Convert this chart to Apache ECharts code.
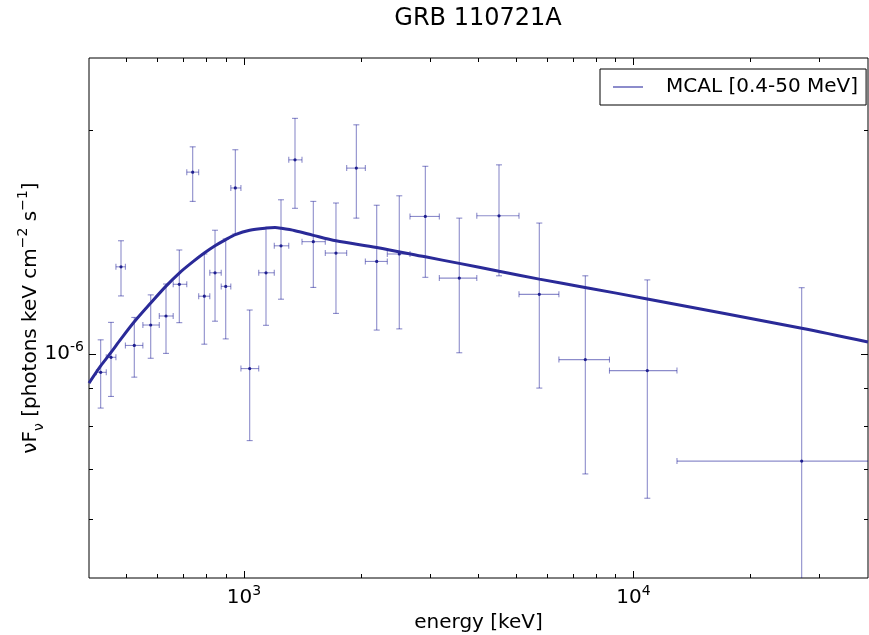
<!DOCTYPE html>
<html>
<head>
<meta charset="utf-8">
<script src="https://cdn.jsdelivr.net/npm/echarts@6/dist/echarts.min.js"></script>
<style>
html,body{margin:0;padding:0;background:#fff;}
#c{width:869px;height:635px;}
</style>
</head>
<body>
<div id="c"></div>
<script>
// ---- data ----
const energy     = [428.6, 455.6, 483.3, 522.8, 576.1, 630.6, 682.2, 738.4, 790.9, 842.6, 897.6, 950.0, 1034.2, 1138.9, 1244.5, 1351.9, 1506.4, 1722.4, 1942.7, 2191.4, 2504.1, 2921.1, 3570.3, 4515.4, 5730.0, 7521.3, 10851, 27027];
const energyLow  = [418, 443, 469, 496, 550, 606, 658, 713, 765, 817, 874, 925, 982, 1091, 1196, 1303, 1409, 1617, 1835, 2049, 2333, 2668, 3173, 3960, 5082, 6434, 8676, 12931];
const energyHigh = [443, 469, 496, 550, 606, 658, 713, 765, 817, 874, 925, 982, 1091, 1196, 1303, 1409, 1617, 1835, 2049, 2333, 2668, 3173, 3960, 5082, 6434, 8676, 12931, 50000];
const flux       = [9.45e-7, 9.90e-7, 1.310e-6, 1.027e-6, 1.094e-6, 1.125e-6, 1.241e-6, 1.756e-6, 1.196e-6, 1.286e-6, 1.233e-6, 1.672e-6, 9.56e-7, 1.286e-6, 1.398e-6, 1.824e-6, 1.416e-6, 1.367e-6, 1.778e-6, 1.332e-6, 1.363e-6, 1.531e-6, 1.265e-6, 1.534e-6, 1.203e-6, 9.83e-7, 9.50e-7, 7.18e-7];
const fluxLow    = [8.46e-7, 8.77e-7, 1.197e-6, 9.31e-7, 9.87e-7, 1.002e-6, 1.102e-6, 1.604e-6, 1.031e-6, 1.107e-6, 1.048e-6, 1.450e-6, 7.65e-7, 1.093e-6, 1.185e-6, 1.570e-6, 1.229e-6, 1.134e-6, 1.523e-6, 1.077e-6, 1.081e-6, 1.268e-6, 1.004e-6, 1.274e-6, 9.00e-7, 6.90e-7, 6.40e-7, 2.1e-7];
const fluxHigh   = [1.045e-6, 1.103e-6, 1.420e-6, 1.120e-6, 1.201e-6, 1.242e-6, 1.380e-6, 1.899e-6, 1.363e-6, 1.467e-6, 1.428e-6, 1.882e-6, 1.146e-6, 1.477e-6, 1.612e-6, 2.074e-6, 1.604e-6, 1.596e-6, 2.033e-6, 1.585e-6, 1.632e-6, 1.788e-6, 1.523e-6, 1.796e-6, 1.500e-6, 1.274e-6, 1.258e-6, 1.228e-6];

const modelEnergy = [400, 428.6, 455.6, 483.3, 522.8, 576.1, 630.6, 682.2, 738.4, 790.9, 842.6, 897.6, 950.0, 1034.2, 1138.9, 1201.3, 1244.5, 1351.9, 1506.4, 1722.4, 2191.4, 2921.1, 3570.3, 4515.4, 5730.0, 7508, 10851, 27027, 40000];
const modelFlux   = [9.14e-7, 9.64e-7, 1.005e-6, 1.048e-6, 1.105e-6, 1.171e-6, 1.234e-6, 1.285e-6, 1.330e-6, 1.367e-6, 1.398e-6, 1.425e-6, 1.447e-6, 1.467e-6, 1.477e-6, 1.479e-6, 1.476e-6, 1.465e-6, 1.444e-6, 1.420e-6, 1.391e-6, 1.351e-6, 1.324e-6, 1.292e-6, 1.261e-6, 1.229e-6, 1.186e-6, 1.083e-6, 1.038e-6];

const xMajorTicks = [1000, 10000];
const xMinorTicks = [500, 600, 700, 800, 900, 2000, 3000, 4000, 5000, 6000, 7000, 8000, 9000, 20000, 30000];
const yMajorTicks = [1e-6];
const yMinorTicks = [6e-7, 7e-7, 8e-7, 9e-7, 2e-6];

const titleText = 'GRB 110721A';
const legendName = 'MCAL [0.4-50 MeV]';
const xName = 'energy [keV]';
// ---------------------------------------

const FONT = 'DejaVu Sans';
const ERR_COLOR = 'rgba(0,0,140,0.45)';
const DOT_COLOR = '#1f1f8f';
const CURVE_COLOR = '#2a2a98';

const expLabel = v => '{b|10}{s|' + Math.round(Math.log10(v)) + '}';
const labelRich = {
  b: {fontFamily: FONT, fontSize: 20, color: '#000', lineHeight: 28, verticalAlign: 'middle'},
  s: {fontFamily: FONT, fontSize: 14, color: '#000', verticalAlign: 'top'}
};

function makeX(pos, ticks, len, withLabel) {
  return {
    type: 'log', logBase: 10, min: 400, max: 40000, position: pos, gridIndex: 0,
    axisLine: {show: false}, splitLine: {show: false}, minorTick: {show: false},
    axisTick: {show: true, inside: true, length: len, customValues: ticks, lineStyle: {color: '#000', width: 1}},
    axisLabel: withLabel ? {show: true, customValues: ticks, margin: 6, formatter: expLabel, rich: labelRich} : {show: false},
    name: withLabel ? xName : '', nameLocation: 'middle', nameGap: 35, nameMoveOverlap: false,
    nameTextStyle: {fontFamily: FONT, fontSize: 20, color: '#000'}
  };
}
function makeY(pos, ticks, len, withLabel) {
  return {
    type: 'log', logBase: 10, min: 5e-7, max: 2.5e-6, position: pos, gridIndex: 0,
    axisLine: {show: false}, splitLine: {show: false}, minorTick: {show: false},
    axisTick: {show: true, inside: true, length: len, customValues: ticks, lineStyle: {color: '#000', width: 1}},
    axisLabel: withLabel ? {show: true, customValues: ticks, margin: 5, formatter: expLabel, rich: labelRich} : {show: false},
    name: withLabel ? '{n|νF}{sub|ν}{n| [photons keV cm}{sup|−2}{n| s}{sup|−1}{n|]}' : '',
    nameLocation: 'middle', nameGap: 43, nameMoveOverlap: false,
    nameTextStyle: {
      color: '#000',
      rich: {
        n: {fontFamily: FONT, fontSize: 20, color: '#000', lineHeight: 30, verticalAlign: 'middle'},
        sub: {fontFamily: FONT, fontSize: 14, color: '#000', verticalAlign: 'bottom'},
        sup: {fontFamily: FONT, fontSize: 14, color: '#000', verticalAlign: 'top'}
      }
    }
  };
}

const errData = energy.map((e, i) => [e, energyLow[i], energyHigh[i], flux[i], fluxLow[i], fluxHigh[i]]);
const modelData = modelEnergy.map((e, i) => [e, modelFlux[i]]);

const chart = echarts.init(document.getElementById('c'), null, {renderer: 'canvas'});
chart.setOption({
  animation: false,
  backgroundColor: '#fff',
  title: {
    text: titleText, left: 478, top: 7, textAlign: 'center', padding: 0,
    textStyle: {fontFamily: FONT, fontSize: 24, fontWeight: 'normal', color: '#000'}
  },
  legend: {
    left: 600, top: 69, padding: [8, 8, 8, 13], selectedMode: false,
    borderColor: '#000', borderWidth: 1, backgroundColor: '#fff',
    itemWidth: 30, itemHeight: 2,
    textStyle: {fontFamily: FONT, fontSize: 20, color: '#000', padding: [0, 0, 0, 18]},
    data: [{name: legendName, icon: 'rect', itemStyle: {color: ERR_COLOR}}]
  },
  grid: {left: 89, top: 58, width: 779, height: 520, show: true, borderColor: '#000', borderWidth: 1, backgroundColor: '#fff', containLabel: false, outerBoundsMode: 'none'},
  xAxis: [
    makeX('bottom', xMajorTicks, 7, true),
    makeX('bottom', xMinorTicks, 4, false),
    makeX('top', xMajorTicks, 7, false),
    makeX('top', xMinorTicks, 4, false)
  ],
  yAxis: [
    makeY('left', yMajorTicks, 7, true),
    makeY('left', yMinorTicks, 4, false),
    makeY('right', yMajorTicks, 7, false),
    makeY('right', yMinorTicks, 4, false)
  ],
  series: [
    {
      name: legendName,
      type: 'custom',
      xAxisIndex: 0, yAxisIndex: 0,
      clip: true,
      itemStyle: {color: ERR_COLOR},
      encode: {x: [0, 1, 2], y: [3, 4, 5]},
      data: errData,
      z: 3,
      renderItem: function (params, api) {
        const e = api.value(0), el = api.value(1), eh = api.value(2);
        const f = api.value(3), fl = api.value(4), fh = api.value(5);
        const c = api.coord([e, f]);
        const l = api.coord([el, f]), r = api.coord([eh, f]);
        const t = api.coord([e, fh]), b = api.coord([e, fl]);
        const w = 3;
        const st = {stroke: ERR_COLOR, lineWidth: 1.1, fill: null};
        const seg = (x1, y1, x2, y2) => ({type: 'line', shape: {x1: x1, y1: y1, x2: x2, y2: y2}, style: st});
        return {
          type: 'group',
          children: [
            seg(l[0], c[1], r[0], c[1]),
            seg(l[0], c[1] - w, l[0], c[1] + w),
            seg(r[0], c[1] - w, r[0], c[1] + w),
            seg(c[0], t[1], c[0], b[1]),
            seg(c[0] - w, t[1], c[0] + w, t[1]),
            seg(c[0] - w, b[1], c[0] + w, b[1]),
            {type: 'circle', shape: {cx: c[0], cy: c[1], r: 1.6}, style: {fill: DOT_COLOR}}
          ]
        };
      }
    },
    {
      name: 'model',
      type: 'line',
      xAxisIndex: 0, yAxisIndex: 0,
      data: modelData,
      showSymbol: false,
      smooth: 0.3,
      lineStyle: {color: CURVE_COLOR, width: 3},
      itemStyle: {color: CURVE_COLOR},
      z: 4
    }
  ]
});
</script>
</body>
</html>
